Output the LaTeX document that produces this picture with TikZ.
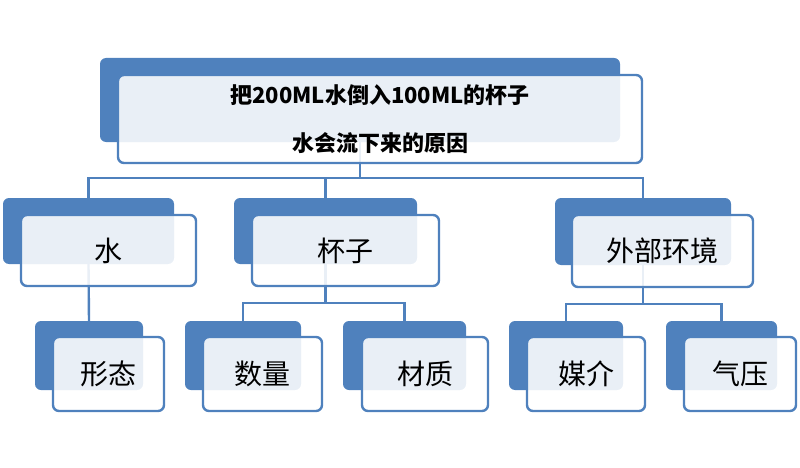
\documentclass[tikz,border=0pt]{standalone}
\usepackage{fontspec}
\setmainfont{Noto Sans CJK SC}
\definecolor{boxBlue}{HTML}{4F81BD}

\begin{document}
\begin{tikzpicture}[x = 1pt, y = -1pt]
	\tikzstyle{backStyle} = [rectangle, rounded corners = 6pt, fill = boxBlue, inner sep = 0pt]
	\tikzstyle{frontStyle} = [rectangle, rounded corners = 6pt, draw = boxBlue, line width = 2.4pt, fill = white, fill opacity = 0.88, text opacity = 1, inner sep = 0pt]
	\tikzstyle{titleStyle} = [font = \bfseries\fontsize{22pt}{48pt}\selectfont, align = center]
	\tikzstyle{labelStyle} = [font = \fontsize{28pt}{30pt}\selectfont]
	\tikzstyle{lineStyle} = [draw = boxBlue, line width = 2.4pt]
	\useasboundingbox (0, 0) rectangle (800, 468);
	\node[backStyle, minimum width = 520pt, minimum height = 84pt] (bTop) at (360, 100) {};
	\node[backStyle, minimum width = 171pt, minimum height = 66pt] (bWater) at (88.5, 231) {};
	\node[backStyle, minimum width = 183pt, minimum height = 66pt] (bCup) at (325.5, 231) {};
	\node[backStyle, minimum width = 176pt, minimum height = 67pt] (bEnv) at (643, 231.5) {};
	\node[backStyle, minimum width = 108pt, minimum height = 69pt] (bShape) at (89, 355.5) {};
	\node[backStyle, minimum width = 116pt, minimum height = 69pt] (bAmount) at (243, 355.5) {};
	\node[backStyle, minimum width = 123pt, minimum height = 69pt] (bMaterial) at (404.5, 355.5) {};
	\node[backStyle, minimum width = 114pt, minimum height = 69pt] (bMedium) at (566, 355.5) {};
	\node[backStyle, minimum width = 111pt, minimum height = 69pt] (bPressure) at (721.5, 355.5) {};
	\coordinate (jTop) at (360, 178);
	\coordinate (jCup) at (325.5, 303);
	\coordinate (jEnv) at (643, 304);
	\draw[lineStyle] (bTop.south) -- (jTop) -| (bWater.north);
	\draw[lineStyle] (jTop) -| (bCup.north);
	\draw[lineStyle] (jTop) -| (bEnv.north);
	\draw[lineStyle] (bWater.south) -- (bShape.north);
	\draw[lineStyle] (bCup.south) -- (jCup) -| (bAmount.north);
	\draw[lineStyle] (jCup) -| (bMaterial.north);
	\draw[lineStyle] (bEnv.south) -- (jEnv) -| (bMedium.north);
	\draw[lineStyle] (jEnv) -| (bPressure.north);
	\node[frontStyle, titleStyle, minimum width = 524pt, minimum height = 88pt] (fTop) at (380, 119) {把200ML水倒入100ML的杯子\\水会流下来的原因};
	\node[frontStyle, labelStyle, minimum width = 175pt, minimum height = 71pt] (fWater) at (108.5, 250.5) {水};
	\node[frontStyle, labelStyle, minimum width = 187pt, minimum height = 71pt] (fCup) at (345.5, 250.5) {杯子};
	\node[frontStyle, labelStyle, minimum width = 181pt, minimum height = 72pt] (fEnv) at (662.5, 251) {外部环境};
	\node[frontStyle, labelStyle, minimum width = 111pt, minimum height = 74pt] (fShape) at (108.5, 374) {形态};
	\node[frontStyle, labelStyle, minimum width = 119pt, minimum height = 74pt] (fAmount) at (262.5, 374) {数量};
	\node[frontStyle, labelStyle, minimum width = 126pt, minimum height = 74pt] (fMaterial) at (425, 374) {材质};
	\node[frontStyle, labelStyle, minimum width = 118pt, minimum height = 74pt] (fMedium) at (586, 374) {媒介};
	\node[frontStyle, labelStyle, minimum width = 112pt, minimum height = 74pt] (fPressure) at (740, 374) {气压};
\end{tikzpicture}
\end{document}
